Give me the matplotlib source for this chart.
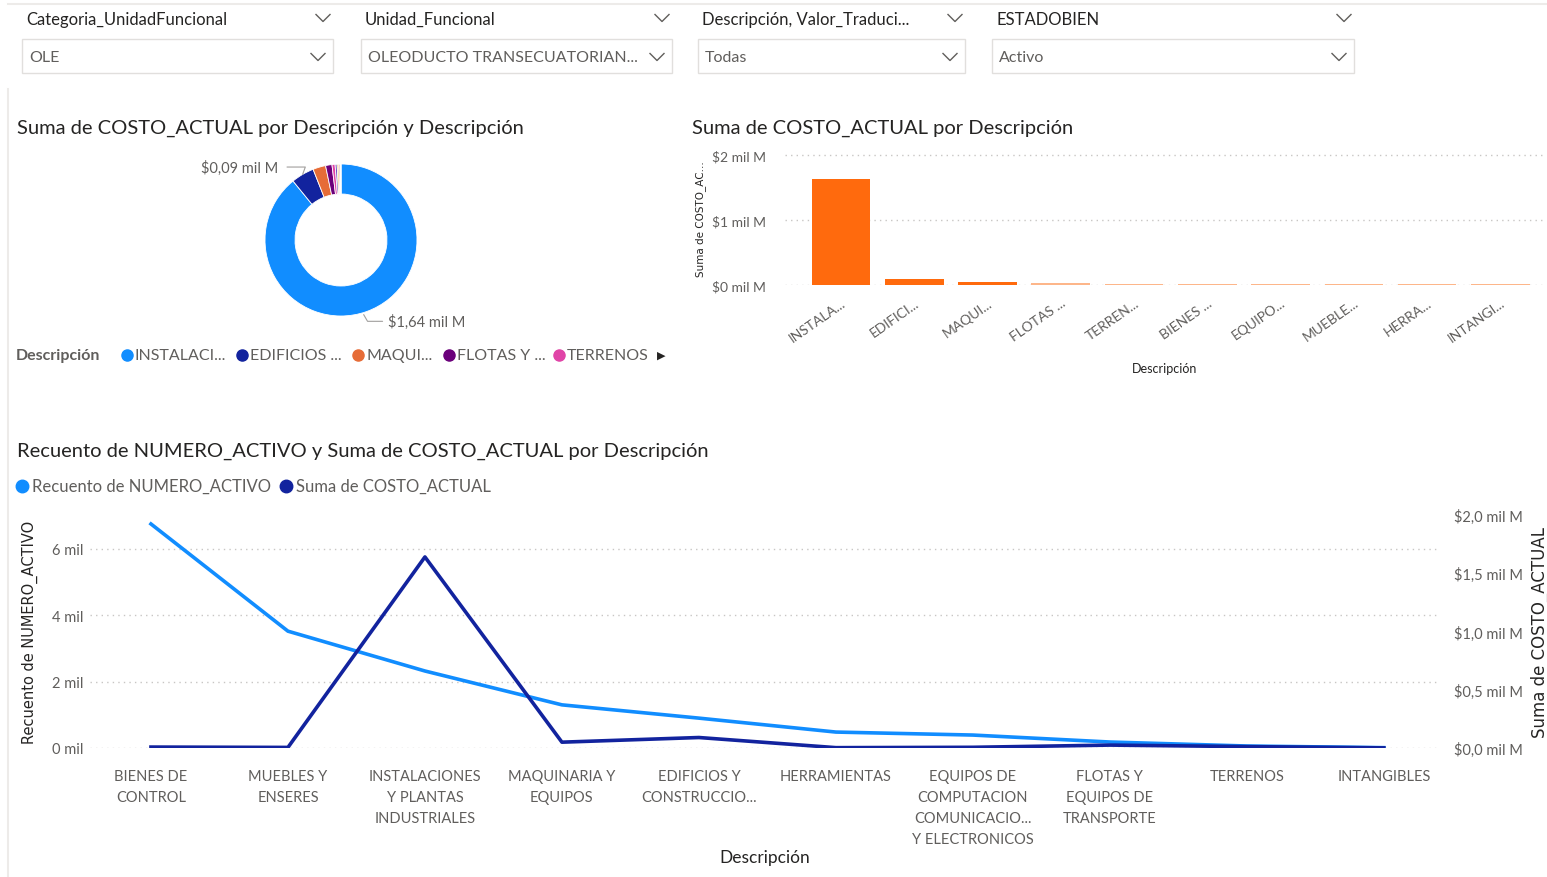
import numpy as np
import matplotlib
matplotlib.use("Agg")
import matplotlib.pyplot as plt
from matplotlib.lines import Line2D
from matplotlib.patches import Rectangle

# ---------------- data ----------------
categories = ["BIENES DE CONTROL", "MUEBLES Y ENSERES", "INSTALACIONES Y PLANTAS INDUSTRIALES",
              "MAQUINARIA Y EQUIPOS", "EDIFICIOS Y CONSTRUCCIONES", "HERRAMIENTAS",
              "EQUIPOS DE COMPUTACION COMUNICACIONES Y ELECTRONICOS",
              "FLOTAS Y EQUIPOS DE TRANSPORTE", "TERRENOS", "INTANGIBLES"]
line_tick_labels = ["BIENES DE\nCONTROL", "MUEBLES Y\nENSERES", "INSTALACIONES\nY PLANTAS\nINDUSTRIALES",
                    "MAQUINARIA Y\nEQUIPOS", "EDIFICIOS Y\nCONSTRUCCIO...", "HERRAMIENTAS",
                    "EQUIPOS DE\nCOMPUTACION\nCOMUNICACIO...\nY ELECTRONICOS",
                    "FLOTAS Y\nEQUIPOS DE\nTRANSPORTE", "TERRENOS", "INTANGIBLES"]
recuento_mil = [6.75, 3.52, 2.32, 1.30, 0.90, 0.48, 0.39, 0.18, 0.06, 0.01]   # miles
costo_milM = [0.008, 0.005, 1.64, 0.05, 0.09, 0.003, 0.006, 0.025, 0.012, 0.001]  # mil M

bar_tick_labels = ["INSTALA...", "EDIFICI...", "MAQUI...", "FLOTAS ...", "TERREN...",
                   "BIENES ...", "EQUIPO...", "MUEBLE...", "HERRA...", "INTANGI..."]
donut_legend_labels = ["INSTALACI...", "EDIFICIOS ...", "MAQUI...", "FLOTAS Y ...", "TERRENOS"]

slicer_titles = ["Categoria_UnidadFuncional", "Unidad_Funcional", "Descripción, Valor_Traduci...", "ESTADOBIEN"]
slicer_values = ["OLE", "OLEODUCTO TRANSECUATORIAN...", "Todas", "Activo"]

palette = ["#118DFF", "#12239E", "#E66C37", "#6B007B", "#E044A7",
           "#744EC2", "#D9B300", "#D64550", "#197278", "#1AAB40"]

# ---------------- setup ----------------
W, H = 1547, 878
FONT = ["Lato", "DejaVu Sans"]
plt.rcParams["font.family"] = FONT
DARK = "#252423"
GRAY = "#605E5C"
GRID = "#C8C6C4"

fig = plt.figure(figsize=(W / 100, H / 100), dpi=100)
fig.patch.set_facecolor("white")


def rect(l, t, w, h):
    return [l / W, 1 - (t + h) / H, w / W, h / H]


def fx(x):
    return x / W


def fy(y):
    return 1 - y / H


def chevron(x, y, w=14, h=7, color="#605E5C"):
    fig.add_artist(Line2D([fx(x - w / 2), fx(x), fx(x + w / 2)], [fy(y - h / 2), fy(y + h / 2), fy(y - h / 2)],
                          color=color, lw=1.0, transform=fig.transFigure))


# frame lines
fig.add_artist(Line2D([fx(8), fx(1547)], [fy(5), fy(5)], color="#EDEBE9", lw=1.5, transform=fig.transFigure))
fig.add_artist(Line2D([fx(8), fx(8)], [fy(90), fy(878)], color="#EDEBE9", lw=1.5, transform=fig.transFigure))

# ---------------- slicers ----------------
slicer_boxes = [(22, 333), (361, 672), (698, 965), (992, 1354)]
for (x0, x1), title, val in zip(slicer_boxes, slicer_titles, slicer_values):
    fig.text(fx(x0 + 4), fy(20), title, fontsize=12, color=DARK, va="center", ha="left")
    chevron(x1 - 10, 19)
    fig.add_artist(Rectangle((fx(x0), fy(74)), fx(x1 - x0), (74 - 40) / H, transform=fig.transFigure,
                             facecolor="white", edgecolor="#E1DFDD", lw=1.0))
    fig.text(fx(x0 + 7), fy(58), val, fontsize=11.5, color=GRAY, va="center", ha="left")
    chevron(x1 - 15, 58)

# ---------------- donut ----------------
order = np.argsort(costo_milM)[::-1]
sorted_costs = [costo_milM[i] for i in order]

fig.text(fx(17), fy(128), "Suma de COSTO_ACTUAL por Descripción y Descripción", fontsize=14.5,
         color=DARK, va="center", ha="left")

R = 76
axd = fig.add_axes(rect(341 - 90, 241 - 90, 180, 180))
wedges, _ = axd.pie(sorted_costs, colors=palette, startangle=90, counterclock=False,
                    radius=1.0, wedgeprops=dict(width=30 / R, edgecolor="white", linewidth=0.6))
axd.set_xlim(-90 / R, 90 / R)
axd.set_ylim(-90 / R, 90 / R)
axd.set_aspect("equal")
axd.axis("off")

# labels with leader lines
w1 = wedges[1]
ang1 = np.deg2rad((w1.theta1 + w1.theta2) / 2)
p1 = (np.cos(ang1), np.sin(ang1))
axd.annotate(f"${sorted_costs[1]:.2f} mil M".replace(".", ","), xy=p1,
             xytext=(-0.82, 0.96), textcoords="data", fontsize=10.5, color=GRAY, ha="right", va="center",
             arrowprops=dict(arrowstyle="-", color="#A19F9D", lw=0.8, shrinkA=4, shrinkB=0,
                             connectionstyle="angle,angleA=0,angleB=70,rad=0"),
             annotation_clip=False)
axd.annotate(f"${sorted_costs[0]:.2f} mil M".replace(".", ","), xy=(0.28, -0.95),
             xytext=(0.62, -1.07), textcoords="data", fontsize=10.5, color=GRAY, ha="left", va="center",
             arrowprops=dict(arrowstyle="-", color="#A19F9D", lw=0.8,
                             connectionstyle="angle,angleA=0,angleB=-60,rad=0"),
             annotation_clip=False)

# donut legend
fig.text(fx(16), fy(356), "Descripción", fontsize=11.5, color=GRAY, fontweight="bold", va="center", ha="left")
leg_x = [127, 242, 358, 449, 559]
for x, lab, c in zip(leg_x, donut_legend_labels, palette):
    fig.add_artist(Line2D([fx(x)], [fy(356)], marker="o", markersize=8, color=c, lw=0,
                          transform=fig.transFigure))
    fig.text(fx(x + 8), fy(356), lab, fontsize=11.5, color=GRAY, va="center", ha="left")
fig.text(fx(657), fy(356), "▶", fontsize=8, color=DARK, va="center", ha="left", family=["DejaVu Sans"])

# ---------------- bar chart ----------------
fig.text(fx(692), fy(128), "Suma de COSTO_ACTUAL por Descripción", fontsize=14.5, color=DARK,
         va="center", ha="left")
axb = fig.add_axes(rect(785, 153, 1545 - 785, 286 - 153))
xb = np.arange(len(sorted_costs))
bar_colors = ["#FF6A0D" if i < 3 else "#FDB68A" for i in range(len(sorted_costs))]
vis = [max(v, 0.012) for v in sorted_costs]
axb.bar(xb, vis, width=0.8, color=bar_colors, zorder=3)
axb.set_ylim(0, 2.05)
axb.set_xlim(-0.765, 9.61)
axb.set_yticks([0, 1, 2])
axb.set_yticklabels(["$0 mil M", "$1 mil M", "$2 mil M"])
axb.set_xticks(xb)
axb.set_xticklabels(bar_tick_labels, rotation=35, ha="right", rotation_mode="anchor")
axb.tick_params(axis="both", length=0, labelsize=10, labelcolor=GRAY)
axb.tick_params(axis="y", pad=14)
axb.tick_params(axis="x", pad=8)
axb.grid(axis="y", linestyle=(0, (1, 3)), color=GRID, lw=1.0, zorder=0)
for s in axb.spines.values():
    s.set_visible(False)
axb.set_xlabel("Descripción", fontsize=9, color=DARK, labelpad=13)
axb.set_ylabel("Suma de COSTO_AC...", fontsize=7.5, color=DARK, labelpad=4, family=["DejaVu Sans"])

# ---------------- line chart ----------------
fig.text(fx(17), fy(451), "Recuento de NUMERO_ACTIVO y Suma de COSTO_ACTUAL por Descripción",
         fontsize=14.5, color=DARK, va="center", ha="left")
lg = [(22, "#118DFF", "Recuento de NUMERO_ACTIVO"), (286, "#12239E", "Suma de COSTO_ACTUAL")]
for x, c, lab in lg:
    fig.add_artist(Line2D([fx(x)], [fy(487)], marker="o", markersize=9, color=c, lw=0,
                          transform=fig.transFigure))
    fig.text(fx(x + 10), fy(487), lab, fontsize=12, color=GRAY, va="center", ha="left")

axl = fig.add_axes(rect(90, 516, 1440 - 90, 749 - 516))
xl = np.arange(len(categories))
axl.plot(xl, recuento_mil, color="#118DFF", lw=2.6, zorder=3, solid_joinstyle="miter")
axl.set_ylim(0, 7.02)
axl.set_xlim(-0.445, 9.41)
axl.set_yticks([0, 2, 4, 6])
axl.set_yticklabels(["0 mil", "2 mil", "4 mil", "6 mil"])
axl.set_xticks(xl)
axl.set_xticklabels(line_tick_labels, linespacing=1.65, va="top")
axl.tick_params(axis="both", length=0, labelsize=10.5, labelcolor=GRAY)
axl.tick_params(axis="y", pad=5)
axl.tick_params(axis="x", pad=15)
axl.grid(axis="y", linestyle=(0, (1, 3)), color=GRID, lw=1.0, zorder=0)
for s in axl.spines.values():
    s.set_visible(False)
axl.set_ylabel("Recuento de NUMERO_ACTIVO", fontsize=10.5, color=DARK, labelpad=10, family=["DejaVu Sans"])
axl.set_xlabel("Descripción", fontsize=12.5, color=DARK, labelpad=2)

axr = axl.twinx()
axr.plot(xl, costo_milM, color="#12239E", lw=2.6, zorder=3)
axr.set_ylim(0, 2.0)
axr.set_yticks([0, 0.5, 1.0, 1.5, 2.0])
axr.set_yticklabels(["$0,0 mil M", "$0,5 mil M", "$1,0 mil M", "$1,5 mil M", "$2,0 mil M"])
axr.tick_params(axis="y", length=0, labelsize=10.5, labelcolor=GRAY, pad=10)
for s in axr.spines.values():
    s.set_visible(False)
axr.set_ylabel("Suma de COSTO_ACTUAL", fontsize=12, color=DARK, labelpad=6, family=["DejaVu Sans"])

fig.savefig("out.png", dpi=100, facecolor="white")
